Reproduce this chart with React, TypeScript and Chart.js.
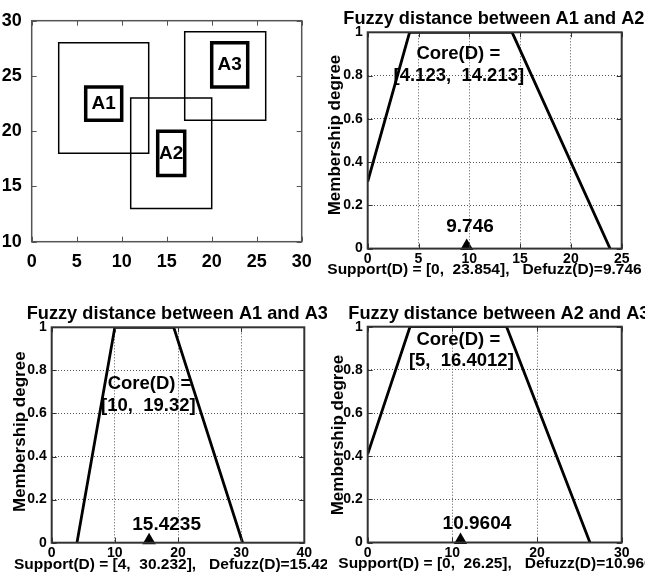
import React, { useEffect, useRef } from 'react';
import { Chart, registerables } from 'chart.js';

Chart.register(...registerables);

const FONT = '"Liberation Sans", Arial, Helvetica, sans-serif';

// ---------- Panel 1: the regions A1, A2, A3 ----------
const regionNames = ['A1', 'A2', 'A3'];
const outerXMin = [3, 11, 17];
const outerXMax = [13, 20, 26];
const outerYMin = [18, 13, 21];
const outerYMax = [28, 23, 29];
const innerXMin = [6, 14, 20];
const innerXMax = [10, 17, 24];
const innerYMin = [21, 16, 24];
const innerYMax = [24, 20, 28];
const mapXTicks = [0, 5, 10, 15, 20, 25, 30];
const mapYTicks = [10, 15, 20, 25, 30];

// ---------- Fuzzy distances ----------
const membershipTicks = [0, 0.2, 0.4, 0.6, 0.8, 1];

const d12X = [0, 4.123, 14.213, 23.854];
const d12Y = [0.31, 1, 1, 0];
const d12Defuzz = 9.746;
const d12XTicks = [0, 5, 10, 15, 20, 25];

const d13X = [4, 10, 19.32, 30.232];
const d13Y = [0, 1, 1, 0];
const d13Defuzz = 15.4235;
const d13XTicks = [0, 10, 20, 30, 40];

const d23X = [0, 5, 16.4012, 26.25];
const d23Y = [0.41, 1, 1, 0];
const d23Defuzz = 10.9604;
const d23XTicks = [0, 10, 20, 30];

type Area = { left: number; top: number; right: number; bottom: number };
type PlainText = { text: string; x: number; y: number; size: number; rotate?: boolean; align?: CanvasTextAlign };
type Note = { text: string; x: number; y: number; size: number };

function decorPlugin(o: {
  borderColor: string;
  borderWidth: number;
  tickLen: number;
  xTicks: number[];
  yTicks: number[];
  notes: Note[];
  texts: PlainText[];
}) {
  return {
    id: 'decor',
    afterDraw(chart: any) {
      const { ctx, chartArea: a, scales } = chart;
      ctx.save();
      // inner tick marks on all four sides
      ctx.strokeStyle = o.borderColor;
      ctx.lineWidth = 1;
      ctx.beginPath();
      for (const v of o.xTicks) {
        const px = Math.round(scales.x.getPixelForValue(v)) + 0.5;
        ctx.moveTo(px, a.bottom);
        ctx.lineTo(px, a.bottom - o.tickLen);
        ctx.moveTo(px, a.top);
        ctx.lineTo(px, a.top + o.tickLen);
      }
      for (const v of o.yTicks) {
        const py = Math.round(scales.y.getPixelForValue(v)) + 0.5;
        ctx.moveTo(a.left, py);
        ctx.lineTo(a.left + o.tickLen, py);
        ctx.moveTo(a.right, py);
        ctx.lineTo(a.right - o.tickLen, py);
      }
      ctx.stroke();
      // axes box
      ctx.lineWidth = o.borderWidth;
      ctx.strokeRect(a.left, a.top, a.right - a.left, a.bottom - a.top);
      // annotations in data coordinates
      ctx.fillStyle = '#000';
      ctx.textBaseline = 'middle';
      ctx.textAlign = 'center';
      for (const n of o.notes) {
        ctx.font = `bold ${n.size}px ${FONT}`;
        ctx.fillText(n.text, scales.x.getPixelForValue(n.x), scales.y.getPixelForValue(n.y));
      }
      // titles and axis labels
      for (const t of o.texts) {
        ctx.font = `bold ${t.size}px ${FONT}`;
        ctx.save();
        ctx.translate(t.x, t.y);
        if (t.rotate) {
          ctx.rotate(-Math.PI / 2);
          ctx.textAlign = 'center';
        } else {
          ctx.textAlign = t.align || 'left';
        }
        ctx.fillText(t.text, 0, 0);
        ctx.restore();
      }
      ctx.restore();
    },
  };
}

function rectPoints(x0: number, x1: number, y0: number, y1: number) {
  return [
    { x: x0, y: y0 },
    { x: x1, y: y0 },
    { x: x1, y: y1 },
    { x: x0, y: y1 },
    { x: x0, y: y0 },
  ];
}

function ticksFrom(values: number[]) {
  return (s: any) => {
    s.ticks = values.map((v) => ({ value: v }));
  };
}

function mapConfig(width: number, height: number, area: Area) {
  const datasets: any[] = [];
  regionNames.forEach((_, i) => {
    datasets.push({
      data: rectPoints(outerXMin[i], outerXMax[i], outerYMin[i], outerYMax[i]),
      showLine: true,
      borderColor: '#000',
      borderWidth: 1.5,
      pointRadius: 0,
      borderJoinStyle: 'miter',
      borderCapStyle: 'square',
    });
    datasets.push({
      data: rectPoints(innerXMin[i], innerXMax[i], innerYMin[i], innerYMax[i]),
      showLine: true,
      borderColor: '#000',
      borderWidth: 3.5,
      pointRadius: 0,
      borderJoinStyle: 'miter',
      borderCapStyle: 'square',
    });
  });
  const notes: Note[] = regionNames.map((name, i) => ({
    text: name,
    x: (innerXMin[i] + innerXMax[i]) / 2,
    y: (innerYMin[i] + innerYMax[i]) / 2,
    size: 19,
  }));
  const tickFont = { family: FONT, weight: 'bold' as const, size: 18 };
  return {
    type: 'scatter' as const,
    data: { datasets },
    options: {
      animation: false as const,
      responsive: false,
      devicePixelRatio: 1,
      events: [],
      layout: { padding: { left: 0, top: area.top, right: width - area.right, bottom: 0 } },
      plugins: { legend: { display: false }, tooltip: { enabled: false } },
      scales: {
        x: {
          type: 'linear' as const,
          min: 0,
          max: 30,
          afterBuildTicks: ticksFrom(mapXTicks),
          afterFit: (s: any) => {
            s.height = height - area.bottom;
          },
          grid: { display: false },
          border: { display: false },
          ticks: { color: '#000', font: tickFont, padding: 2, maxRotation: 0, autoSkip: false, callback: (v: any) => String(v) },
        },
        y: {
          type: 'linear' as const,
          min: 10,
          max: 30,
          afterBuildTicks: ticksFrom(mapYTicks),
          afterFit: (s: any) => {
            s.width = area.left;
          },
          grid: { display: false },
          border: { display: false },
          ticks: { color: '#000', font: tickFont, padding: 2, autoSkip: false, callback: (v: any) => String(v) },
        },
      },
    },
    plugins: [
      decorPlugin({
        borderColor: '#555',
        borderWidth: 1.5,
        tickLen: 5,
        xTicks: mapXTicks,
        yTicks: mapYTicks,
        notes,
        texts: [],
      }),
    ],
  };
}

type FuzzySpec = {
  xs: number[];
  ys: number[];
  defuzz: number;
  xMax: number;
  xTicks: number[];
  notes: Note[];
  texts: PlainText[];
};

function fuzzyConfig(width: number, height: number, area: Area, p: FuzzySpec) {
  const tickFont = { family: FONT, weight: 'bold' as const, size: 14 };
  return {
    type: 'scatter' as const,
    data: {
      datasets: [
        {
          data: p.xs.map((x, i) => ({ x, y: p.ys[i] })),
          showLine: true,
          borderColor: '#000',
          borderWidth: 2.8,
          pointRadius: 0,
        },
        {
          data: [{ x: p.defuzz, y: 0 }],
          showLine: false,
          pointStyle: 'triangle',
          pointRadius: 10,
          backgroundColor: '#000',
          borderColor: '#000',
          borderWidth: 0,
          clip: { left: 0, top: 0, right: 0, bottom: 1.5 },
        },
      ],
    },
    options: {
      animation: false as const,
      responsive: false,
      devicePixelRatio: 1,
      events: [],
      layout: { padding: { left: 0, top: area.top, right: width - area.right, bottom: 0 } },
      plugins: { legend: { display: false }, tooltip: { enabled: false } },
      scales: {
        x: {
          type: 'linear' as const,
          min: 0,
          max: p.xMax,
          afterBuildTicks: ticksFrom(p.xTicks),
          afterFit: (s: any) => {
            s.height = height - area.bottom;
          },
          grid: { color: '#555', lineWidth: 1, drawTicks: false },
          border: { display: false, dash: [1, 2] },
          ticks: { color: '#000', font: tickFont, padding: 2, maxRotation: 0, autoSkip: false, callback: (v: any) => String(v) },
        },
        y: {
          type: 'linear' as const,
          min: 0,
          max: 1,
          afterBuildTicks: ticksFrom(membershipTicks),
          afterFit: (s: any) => {
            s.width = area.left;
          },
          grid: { color: '#555', lineWidth: 1, drawTicks: false },
          border: { display: false, dash: [1, 2] },
          ticks: { color: '#000', font: tickFont, padding: 5, autoSkip: false, callback: (v: any) => String(v) },
        },
      },
    },
    plugins: [
      decorPlugin({
        borderColor: '#333',
        borderWidth: 2,
        tickLen: 5,
        xTicks: p.xTicks,
        yTicks: membershipTicks,
        notes: p.notes,
        texts: p.texts,
      }),
    ],
  };
}

function Panel(props: { left: number; top: number; width: number; height: number; make: () => any }) {
  const ref = useRef<HTMLCanvasElement | null>(null);
  useEffect(() => {
    const chart = new Chart(ref.current as HTMLCanvasElement, props.make());
    return () => chart.destroy();
  }, []);
  return (
    <canvas
      ref={ref}
      width={props.width}
      height={props.height}
      style={{
        position: 'absolute',
        left: props.left,
        top: props.top,
        width: props.width,
        height: props.height,
        background: '#fff',
      }}
    />
  );
}

export default function App() {
  return (
    <div
      style={{
        position: 'absolute',
        left: 0,
        top: 0,
        width: 645,
        height: 573,
        background: '#fff',
        overflow: 'hidden',
      }}
    >
      <Panel
        left={0}
        top={0}
        width={322}
        height={280}
        make={() => mapConfig(322, 280, { left: 31.7, top: 20.7, right: 301.7, bottom: 241.7 })}
      />
      <Panel
        left={322}
        top={0}
        width={323}
        height={280}
        make={() =>
          fuzzyConfig(323, 280, { left: 45.7, top: 32.3, right: 299.7, bottom: 248.6 }, {
            xs: d12X,
            ys: d12Y,
            defuzz: d12Defuzz,
            xMax: 25,
            xTicks: d12XTicks,
            notes: [
              { text: 'Core(D) =', x: 8.92, y: 0.9, size: 18.5 },
              { text: '[4.123,  14.213]', x: 8.97, y: 0.8, size: 18.5 },
              { text: String(d12Defuzz), x: 10.07, y: 0.1, size: 19 },
            ],
            texts: [
              { text: 'Fuzzy distance between A1 and A2', x: 21.3, y: 19.3, size: 18.2 },
              { text: 'Support(D) = [0,  23.854],   Defuzz(D)=' + d12Defuzz, x: 5.3, y: 270, size: 15.5 },
              { text: 'Membership degree', x: 13, y: 135, size: 17, rotate: true },
            ],
          })
        }
      />
      <Panel
        left={0}
        top={280}
        width={327}
        height={293}
        make={() =>
          fuzzyConfig(327, 293, { left: 51.7, top: 47.3, right: 304.3, bottom: 262.7 }, {
            xs: d13X,
            ys: d13Y,
            defuzz: d13Defuzz,
            xMax: 40,
            xTicks: d13XTicks,
            notes: [
              { text: 'Core(D) =', x: 15.49, y: 0.737, size: 18.5 },
              { text: '[10,  19.32]', x: 15.3, y: 0.635, size: 18.5 },
              { text: String(d13Defuzz), x: 18.2, y: 0.082, size: 19 },
            ],
            texts: [
              { text: 'Fuzzy distance between A1 and A3', x: 26.7, y: 34.2, size: 18.2 },
              { text: 'Support(D) = [4,  30.232],   Defuzz(D)=' + d13Defuzz, x: 14, y: 284.3, size: 15.5 },
              { text: 'Membership degree', x: 20, y: 151.7, size: 17, rotate: true },
            ],
          })
        }
      />
      <Panel
        left={327}
        top={280}
        width={318}
        height={293}
        make={() =>
          fuzzyConfig(318, 293, { left: 40.7, top: 46.7, right: 294.7, bottom: 262.5 }, {
            xs: d23X,
            ys: d23Y,
            defuzz: d23Defuzz,
            xMax: 30,
            xTicks: d23XTicks,
            notes: [
              { text: 'Core(D) =', x: 10.7, y: 0.94, size: 18.5 },
              { text: '[5,  16.4012]', x: 11.06, y: 0.842, size: 18.5 },
              { text: String(d23Defuzz), x: 12.9, y: 0.089, size: 19 },
            ],
            texts: [
              { text: 'Fuzzy distance between A2 and A3', x: 21.3, y: 34, size: 18.2 },
              { text: 'Support(D) = [0,  26.25],   Defuzz(D)=' + d23Defuzz, x: 11.3, y: 284, size: 15.5 },
              { text: 'Membership degree', x: 11, y: 155, size: 17, rotate: true },
            ],
          })
        }
      />
    </div>
  );
}
